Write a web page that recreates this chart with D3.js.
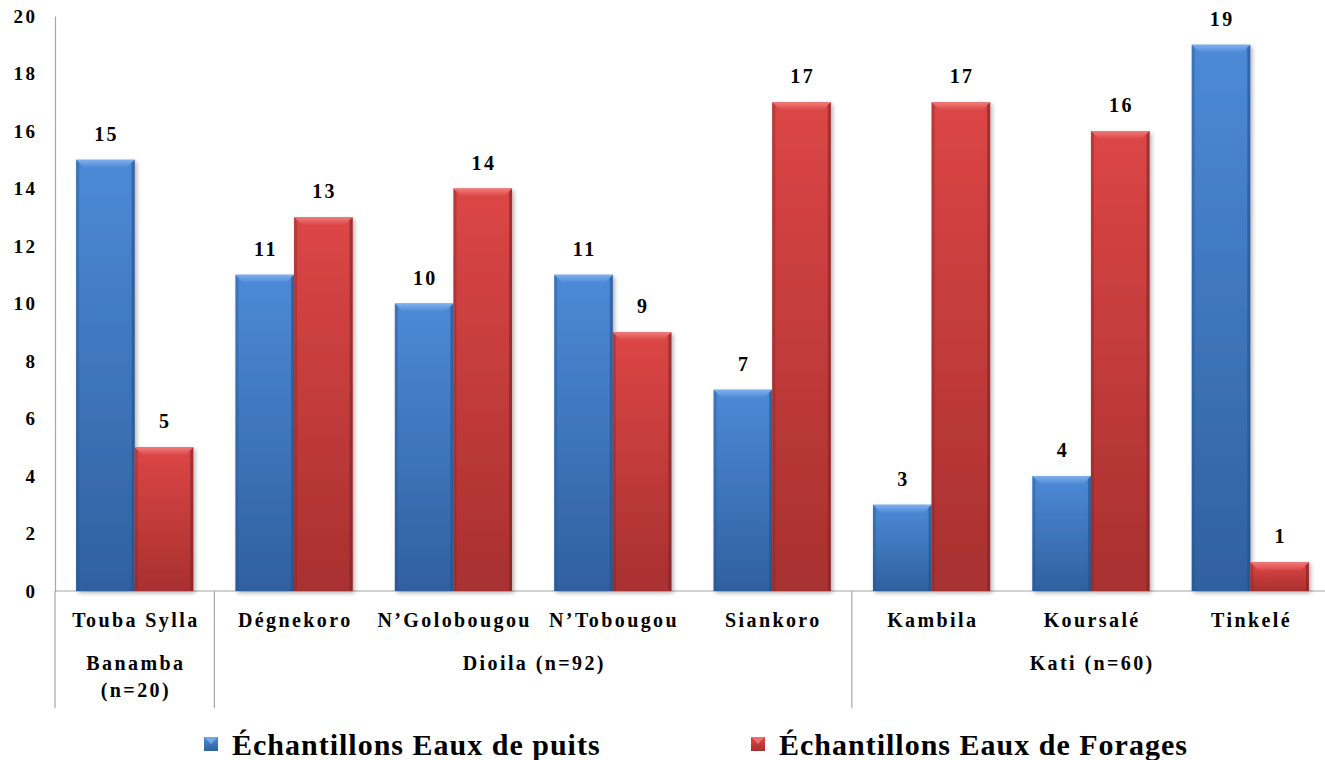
<!DOCTYPE html>
<html>
<head>
<meta charset="utf-8">
<script src="https://cdn.jsdelivr.net/npm/d3@7"></script>
<style>
  html, body { margin: 0; padding: 0; background: #fff; }
  svg { display: block; }
  svg text { font-family: "Times New Roman", "Liberation Serif", "DejaVu Serif", serif !important; font-weight: bold; fill: #000; }
</style>
</head>
<body>
<svg id="chart" width="1325" height="760"></svg>
<script>
// Sites (villages), grouped by cercle
const sites = ["Touba Sylla", "Dégnekoro", "N’Golobougou", "N’Tobougou", "Siankoro", "Kambila", "Koursalé", "Tinkelé"];
const groups = [
  { name: ["Banamba", "(n=20)"], first: 0, last: 0 },
  { name: ["Dioila (n=92)"], first: 1, last: 4 },
  { name: ["Kati (n=60)"], first: 5, last: 7 }
];
const seriesNames = ["Échantillons Eaux de puits", "Échantillons Eaux de Forages"];
const puits   = [15, 11, 10, 11, 7, 3, 4, 19];
const forages = [5, 13, 14, 9, 17, 17, 16, 1];
const yTicks = [0, 2, 4, 6, 8, 10, 12, 14, 16, 18, 20];

const FONT = "'Times New Roman', 'Liberation Serif', 'DejaVu Serif', serif";
const LS = 2.4; // letter spacing of the small labels

const svg = d3.select("#chart");
const defs = svg.append("defs");

const palettes = [
  { top: "#4d8ad6", bottom: "#2f609f", bevel: "#7fb0ec", edge: "#23508a" },
  { top: "#dc4646", bottom: "#a83030", bevel: "#f07a7a", edge: "#802222" }
];
palettes.forEach((p, i) => {
  const g = defs.append("linearGradient").attr("id", "grad" + i)
    .attr("x1", 0).attr("y1", 0).attr("x2", 0).attr("y2", 1);
  g.append("stop").attr("offset", "0%").attr("stop-color", p.top);
  g.append("stop").attr("offset", "100%").attr("stop-color", p.bottom);
  const b = defs.append("linearGradient").attr("id", "bev" + i)
    .attr("x1", 0).attr("y1", 0).attr("x2", 0).attr("y2", 1);
  b.append("stop").attr("offset", "0%").attr("stop-color", p.bevel);
  b.append("stop").attr("offset", "100%").attr("stop-color", p.top);
});
const sh = defs.append("filter").attr("id", "shadow")
  .attr("x", "-20%").attr("y", "-10%").attr("width", "150%").attr("height", "130%");
sh.append("feDropShadow").attr("dx", 2).attr("dy", 2).attr("stdDeviation", 2)
  .attr("flood-color", "#000").attr("flood-opacity", 0.3);

const x0 = d3.scaleBand().domain(sites).range([55, 1330]).padding(0);
const x1 = d3.scaleBand().domain([0, 1]).range([0, x0.bandwidth()]).paddingInner(0).paddingOuter(0.36);
const y = d3.scaleLinear().domain([0, 20]).range([591, 16]);

const axisColor = "#a6a6a6";

// y axis labels
const yAxis = d3.axisLeft(y).tickValues(yTicks).tickSize(0).tickPadding(20 - LS);
const gy = svg.append("g").attr("transform", "translate(55,0)").call(yAxis)
  .attr("font-family", FONT);
gy.select(".domain").attr("stroke", axisColor).attr("stroke-width", 1.2);
gy.selectAll("text").style("font-size", "19px").style("letter-spacing", LS + "px").attr("fill", "#000");

// baseline
svg.append("line").attr("x1", 55).attr("x2", 1325).attr("y1", y(0)).attr("y2", y(0))
  .attr("stroke", axisColor).attr("stroke-width", 1.2);

// group separators below the axis
const sepX = [x0(sites[0])].concat(groups.slice(1).map(g => x0(sites[g.first])));
svg.selectAll("line.sep").data(sepX).join("line").attr("class", "sep")
  .attr("x1", d => d).attr("x2", d => d).attr("y1", y(0)).attr("y2", 708)
  .attr("stroke", axisColor).attr("stroke-width", 1.2);

// bars
const data = [];
sites.forEach((s, i) => {
  [puits[i], forages[i]].forEach((v, k) => data.push({ site: s, k, v }));
});
const bars = svg.append("g").selectAll("g.bar").data(data).join("g").attr("class", "bar")
  .attr("transform", d => `translate(${x0(d.site) + x1(d.k)},0)`);
const bw = x1.bandwidth();
bars.append("rect")
  .attr("x", 0).attr("y", d => y(d.v)).attr("width", bw).attr("height", d => y(0) - y(d.v))
  .attr("fill", d => `url(#grad${d.k})`).attr("filter", "url(#shadow)");
// bevel: top facet
const bev = 8;
bars.append("path")
  .attr("d", d => {
    const t = y(d.v);
    return `M0,${t} L${bw},${t} L${bw - bev},${t + bev} L${bev},${t + bev} Z`;
  })
  .attr("fill", d => `url(#bev${d.k})`);
// bevel: side facets
bars.append("path")
  .attr("d", d => {
    const t = y(d.v), b = y(0);
    return `M${bw},${t} L${bw},${b} L${bw - 3},${b} L${bw - 3},${t + 3} Z`;
  })
  .attr("fill", d => palettes[d.k].edge).attr("opacity", 0.6);
bars.append("path")
  .attr("d", d => {
    const t = y(d.v), b = y(0);
    return `M0,${t} L3,${t + 3} L3,${b} L0,${b} Z`;
  })
  .attr("fill", d => palettes[d.k].edge).attr("opacity", 0.35);

// value labels
bars.append("text")
  .attr("x", bw / 2 + LS / 2).attr("y", d => y(d.v) - 19)
  .attr("text-anchor", "middle").style("font-size", "20px").style("letter-spacing", LS + "px")
  .text(d => d.v);

// site labels
svg.selectAll("text.site").data(sites).join("text").attr("class", "site")
  .attr("x", d => x0(d) + x0.bandwidth() / 2 + LS / 2).attr("y", 627)
  .attr("text-anchor", "middle").style("font-size", "20px").style("letter-spacing", LS + "px")
  .text(d => d);

// group labels
groups.forEach(g => {
  const cx = (x0(sites[g.first]) + x0(sites[g.last]) + x0.bandwidth()) / 2 + LS / 2;
  g.name.forEach((line, j) => {
    svg.append("text").attr("x", cx).attr("y", 670 + j * 27)
      .attr("text-anchor", "middle").style("font-size", "20px").style("letter-spacing", LS + "px")
      .text(line);
  });
});

// legend
const legX = [204, 751];
seriesNames.forEach((name, k) => {
  const g = svg.append("g").attr("transform", `translate(${legX[k]},737)`);
  g.append("rect").attr("x", 0).attr("y", 0).attr("width", 14).attr("height", 14)
    .attr("fill", `url(#grad${k})`);
  g.append("path").attr("d", "M0,0 L14,0 L7,7 Z").attr("fill", palettes[k].bevel).attr("opacity", 0.8);
  g.append("text").attr("x", 28).attr("y", 18).style("font-size", "30px").style("letter-spacing", "1px").text(name);
});
</script>
</body>
</html>
